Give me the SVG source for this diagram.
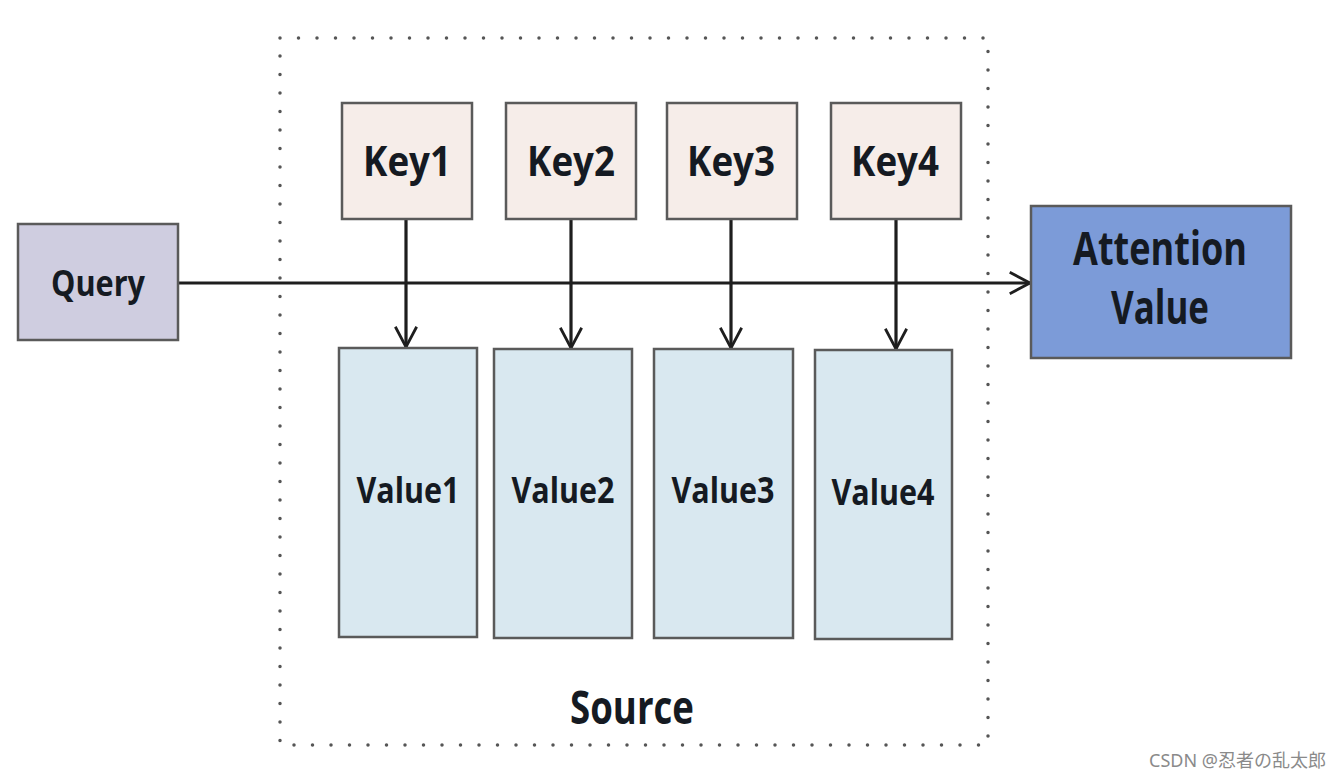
<svg xmlns="http://www.w3.org/2000/svg" width="1341" height="778" viewBox="0 0 1341 778">
<style>
.box{stroke:#5a5a5a;stroke-width:2.5}
.key{fill:#f6ede9}
.val{fill:#d9e8f0}
.lbl{font-family:"Open Sans","Liberation Sans",sans-serif;font-weight:bold;fill:#151a22;text-anchor:middle}
.conn{stroke:#1e1e1e;stroke-width:3.2;fill:none}
</style>
<defs>
<marker id="arr" viewBox="0 0 12 12" refX="11" refY="6" markerWidth="8" markerHeight="8" orient="auto" markerUnits="strokeWidth">
<path d="M1.5,1 L11,6 L1.5,11" fill="none" stroke="#1e1e1e" stroke-width="1.3"/>
</marker>
</defs>
<rect width="1341" height="778" fill="#ffffff"/>
<g id="source">
<rect x="280" y="38" width="708" height="707" fill="none" stroke="#555" stroke-width="3.5" stroke-dasharray="0 18.5" stroke-linecap="round"/>
<text class="lbl" x="632" y="724" font-size="46" textLength="124" lengthAdjust="spacingAndGlyphs">Source</text>
</g>
<g id="connectors">
<line class="conn" x1="178" y1="283" x2="1030" y2="283" marker-end="url(#arr)"/>
<line class="conn" x1="406" y1="219" x2="406" y2="347" marker-end="url(#arr)"/>
<line class="conn" x1="571" y1="219" x2="571" y2="348" marker-end="url(#arr)"/>
<line class="conn" x1="731" y1="219" x2="731" y2="348" marker-end="url(#arr)"/>
<line class="conn" x1="896" y1="219" x2="896" y2="349" marker-end="url(#arr)"/>
</g>
<g id="query">
<rect class="box" x="18" y="224" width="160" height="116" fill="#cfcde0"/>
<text class="lbl" x="98" y="296" font-size="36" textLength="94" lengthAdjust="spacingAndGlyphs">Query</text>
</g>
<g id="key1"><rect class="box key" x="342" y="103" width="130" height="116"/><text class="lbl" x="407" y="176" font-size="42" textLength="88" lengthAdjust="spacingAndGlyphs">Key1</text></g>
<g id="key2"><rect class="box key" x="506" y="103" width="130" height="116"/><text class="lbl" x="571" y="176" font-size="42" textLength="88" lengthAdjust="spacingAndGlyphs">Key2</text></g>
<g id="key3"><rect class="box key" x="667" y="103" width="130" height="116"/><text class="lbl" x="731" y="176" font-size="42" textLength="88" lengthAdjust="spacingAndGlyphs">Key3</text></g>
<g id="key4"><rect class="box key" x="831" y="103" width="130" height="116"/><text class="lbl" x="895" y="176" font-size="42" textLength="88" lengthAdjust="spacingAndGlyphs">Key4</text></g>
<g id="value1"><rect class="box val" x="339" y="348" width="138" height="289"/><text class="lbl" x="408" y="503" font-size="36" textLength="103" lengthAdjust="spacingAndGlyphs">Value1</text></g>
<g id="value2"><rect class="box val" x="494" y="349" width="138" height="289"/><text class="lbl" x="563" y="503" font-size="36" textLength="103" lengthAdjust="spacingAndGlyphs">Value2</text></g>
<g id="value3"><rect class="box val" x="654" y="349" width="139" height="289"/><text class="lbl" x="723" y="503" font-size="36" textLength="103" lengthAdjust="spacingAndGlyphs">Value3</text></g>
<g id="value4"><rect class="box val" x="815" y="350" width="137" height="289"/><text class="lbl" x="883" y="505" font-size="36" textLength="103" lengthAdjust="spacingAndGlyphs">Value4</text></g>
<g id="attention">
<rect class="box" x="1031" y="206" width="260" height="152" fill="#7c9bd8"/>
<text class="lbl" x="1160" y="265" font-size="46" textLength="174" lengthAdjust="spacingAndGlyphs">Attention</text>
<text class="lbl" x="1160" y="324" font-size="46" textLength="98" lengthAdjust="spacingAndGlyphs">Value</text>
</g>
<text x="1326" y="767" font-family="'Noto Sans','Noto Sans CJK JP',sans-serif" font-size="18" fill="#8a8a8a" text-anchor="end">CSDN @忍者の乱太郎</text>
</svg>
